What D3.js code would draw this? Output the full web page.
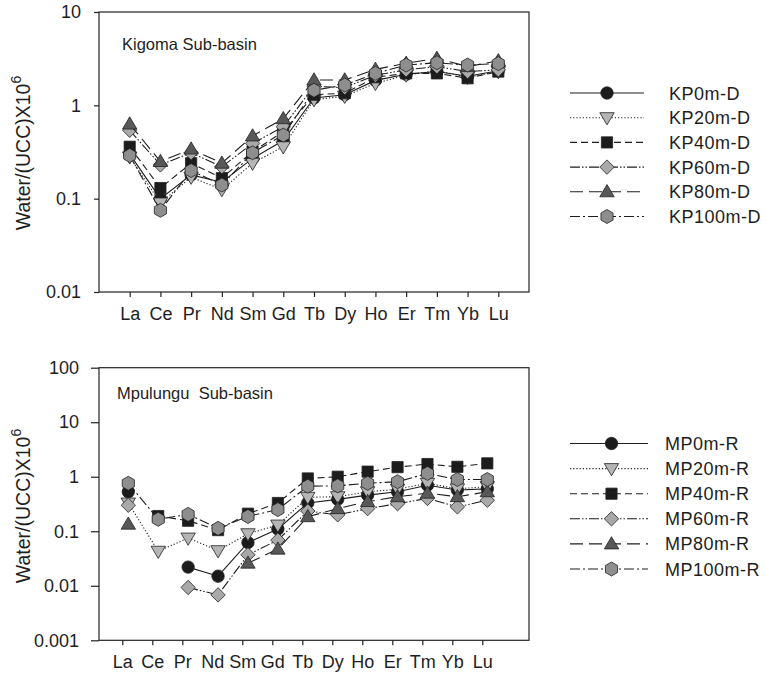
<!DOCTYPE html>
<html>
<head>
<meta charset="utf-8">
<script src="https://cdn.jsdelivr.net/npm/d3@7"></script>
<style>
  body { margin: 0; background: #fff; }
  svg { display: block; font-family: "Liberation Sans", Arial, sans-serif; }
  text { fill: #1e1e1e; }
</style>
</head>
<body>
<svg id="chart" width="766" height="674"></svg>
<script>
// Rare earth elements on the x axis
const categories = ["La","Ce","Pr","Nd","Sm","Gd","Tb","Dy","Ho","Er","Tm","Yb","Lu"];

// Kigoma sub-basin (water / UCC x 10^6)
const kigomaNames = ["KP0m-D","KP20m-D","KP40m-D","KP60m-D","KP80m-D","KP100m-D"];
const kp0   = [0.30, 0.10, 0.18, 0.15, 0.27, 0.42, 1.20, 1.30, 1.85, 2.15, 2.30, 2.05, 2.35];
const kp20  = [0.28, 0.09, 0.17, 0.125, 0.24, 0.36, 1.15, 1.25, 1.72, 2.11, 2.35, 2.00, 2.30];
const kp40  = [0.36, 0.13, 0.24, 0.166, 0.32, 0.52, 1.30, 1.35, 2.00, 2.20, 2.20, 1.95, 2.30];
const kp60  = [0.54, 0.23, 0.31, 0.22, 0.39, 0.59, 1.60, 1.55, 2.10, 2.40, 2.60, 2.30, 2.40];
const kp80  = [0.63, 0.25, 0.34, 0.24, 0.47, 0.72, 1.87, 1.87, 2.43, 2.82, 3.19, 2.60, 3.00];
const kp100 = [0.29, 0.075, 0.20, 0.14, 0.31, 0.48, 1.45, 1.65, 2.20, 2.70, 2.86, 2.70, 2.80];

// Mpulungu sub-basin (null = not determined)
const mpulunguNames = ["MP0m-R","MP20m-R","MP40m-R","MP60m-R","MP80m-R","MP100m-R"];
const mp0   = [0.53, null, 0.022, 0.015, 0.062, 0.11, 0.33, 0.385, 0.46, 0.53, 0.70, 0.57, 0.60];
const mp20  = [0.33, 0.043, 0.075, 0.044, 0.09, 0.13, 0.42, 0.43, 0.53, 0.59, 0.76, 0.60, 0.66];
const mp40  = [null, 0.19, 0.156, 0.105, 0.21, 0.33, 0.93, 1.00, 1.24, 1.50, 1.71, 1.52, 1.76];
const mp60  = [0.30, null, 0.0093, 0.0068, 0.037, 0.069, 0.235, 0.20, 0.26, 0.32, 0.40, 0.28, 0.37];
const mp80  = [0.135, null, null, null, 0.026, 0.047, 0.185, 0.26, 0.35, 0.43, 0.50, 0.43, 0.53];
const mp100 = [0.76, 0.166, 0.204, 0.113, 0.187, 0.25, 0.67, 0.68, 0.76, 0.81, 1.15, 0.89, 0.89];

// Y axis tick labels
const kigomaTicks = [0.01, 0.1, 1, 10];
const kigomaTickLabels = ["0.01", "0.1", "1", "10"];
const mpulunguTicks = [0.001, 0.01, 0.1, 1, 10, 100];
const mpulunguTickLabels = ["0.001", "0.01", "0.1", "1", "10", "100"];

// One marker/line style per sampling depth
const styles = [
  { shape: "circle",   fill: "#1c1c1c", dash: null },
  { shape: "triDown",  fill: "#b5b5b5", dash: "1.2,2" },
  { shape: "square",   fill: "#1c1c1c", dash: "7,4" },
  { shape: "diamond",  fill: "#a9a9a9", dash: "10,2,1.5,2,1.5,2" },
  { shape: "triUp",    fill: "#585858", dash: "13,6" },
  { shape: "hexagon",  fill: "#8e8e8e", dash: "10,3,2,3" }
];

function markerPath(shape) {
  const p = d3.path();
  if (shape === "circle") {
    p.arc(0, 0, 6.2, 0, 2 * Math.PI);
  } else if (shape === "square") {
    p.rect(-5.6, -5.6, 11.2, 11.2);
  } else if (shape === "triUp") {
    p.moveTo(0, -7.2); p.lineTo(7.2, 5); p.lineTo(-7.2, 5); p.closePath();
  } else if (shape === "triDown") {
    p.moveTo(0, 7.2); p.lineTo(7.2, -5); p.lineTo(-7.2, -5); p.closePath();
  } else if (shape === "diamond") {
    p.moveTo(0, -7.2); p.lineTo(7.2, 0); p.lineTo(0, 7.2); p.lineTo(-7.2, 0); p.closePath();
  } else if (shape === "hexagon") {
    for (let i = 0; i < 6; i++) {
      const a = -Math.PI / 2 + i * Math.PI / 3;
      const x = 7 * Math.cos(a), y = 7 * Math.sin(a);
      if (i === 0) p.moveTo(x, y); else p.lineTo(x, y);
    }
    p.closePath();
  }
  return p.toString();
}

const svg = d3.select("#chart");
svg.append("rect").attr("width", 766).attr("height", 674).attr("fill", "#fff");

function drawPanel(cfg) {
  const g = svg.append("g");
  const { left, right, top, bottom } = cfg.frame;

  const y = d3.scaleLog().domain(cfg.yDomain).range([bottom, top]);
  const xAxisScale = d3.scalePoint().domain(categories).range(cfg.xTickRange);
  const xMark = d3.scalePoint().domain(categories).range(cfg.xMarkRange);

  // frame
  g.append("rect")
    .attr("x", left).attr("y", top)
    .attr("width", right - left).attr("height", bottom - top)
    .attr("fill", "none").attr("stroke", "#222").attr("stroke-width", 1.2);

  // y axis
  const yAxis = d3.axisLeft(y)
    .tickValues(cfg.yTicks)
    .tickFormat((d, i) => cfg.yTickLabels[i])
    .tickSize(cfg.yTickLen).tickPadding(cfg.yTickPad);
  const ya = g.append("g").attr("transform", `translate(${left},0)`).call(yAxis);
  ya.select(".domain").remove();
  ya.selectAll("line").attr("stroke", "#222").attr("stroke-width", 1.2);
  ya.selectAll("text").attr("font-size", 18).attr("fill", "#1e1e1e")
    .attr("font-family", "Liberation Sans, Arial, sans-serif");

  // x axis
  const xAxis = d3.axisBottom(xAxisScale).tickSize(5).tickPadding(10);
  const xa = g.append("g").attr("transform", `translate(0,${bottom})`).call(xAxis);
  xa.select(".domain").remove();
  xa.selectAll("line").attr("stroke", "#222").attr("stroke-width", 1.2);
  xa.selectAll("text").attr("font-size", 18).attr("fill", "#1e1e1e")
    .attr("font-family", "Liberation Sans, Arial, sans-serif");

  // y axis title
  const yt = g.append("text")
    .attr("transform", `translate(${cfg.yTitlePos[0]},${cfg.yTitlePos[1]}) rotate(-90)`)
    .attr("text-anchor", "middle").attr("font-size", 19.5);
  yt.append("tspan").text("Water/(UCC)X10");
  yt.append("tspan").attr("dy", -9).attr("font-size", 14).text("6");

  // panel title
  g.append("text")
    .attr("x", cfg.titlePos[0]).attr("y", cfg.titlePos[1])
    .attr("font-size", 16.5).style("white-space", "pre")
    .text(cfg.title);

  // series
  cfg.series.forEach((vals, si) => {
    const st = styles[si];
    const pts = vals.map((v, i) => ({ c: categories[i], v }));
    const line = d3.line()
      .defined(d => d.v != null)
      .x(d => xMark(d.c)).y(d => y(d.v));
    g.append("path").datum(pts)
      .attr("d", line).attr("fill", "none")
      .attr("stroke", "#1e1e1e").attr("stroke-width", 1.1)
      .attr("stroke-dasharray", st.dash);
    g.selectAll(null).data(pts.filter(d => d.v != null)).enter()
      .append("path")
      .attr("d", markerPath(st.shape))
      .attr("transform", d => `translate(${xMark(d.c)},${y(d.v)})`)
      .attr("fill", st.fill).attr("stroke", "#222").attr("stroke-width", 0.8);
  });

  // legend
  const lg = svg.append("g");
  cfg.names.forEach((name, i) => {
    const st = styles[i];
    const ly = cfg.legend.y0 + i * cfg.legend.dy;
    lg.append("line")
      .attr("x1", cfg.legend.x1).attr("x2", cfg.legend.x2)
      .attr("y1", ly).attr("y2", ly)
      .attr("stroke", "#1e1e1e").attr("stroke-width", 1.1)
      .attr("stroke-dasharray", st.dash);
    lg.append("path").attr("d", markerPath(st.shape))
      .attr("transform", `translate(${cfg.legend.xm},${ly})`)
      .attr("fill", st.fill).attr("stroke", "#222").attr("stroke-width", 0.8);
    lg.append("text")
      .attr("x", cfg.legend.xt).attr("y", ly + 6.5)
      .attr("font-size", 18).attr("letter-spacing", 0.5)
      .text(name);
  });
}

drawPanel({
  frame: { left: 99, right: 529, top: 12, bottom: 292 },
  yDomain: [0.01, 10],
  yTicks: kigomaTicks, yTickLabels: kigomaTickLabels,
  yTickLen: 5, yTickPad: 13,
  xTickRange: [129.7, 498.3],
  xMarkRange: [129.7, 498.3],
  yTitlePos: [30, 153],
  title: "Kigoma Sub-basin", titlePos: [122, 50],
  series: [kp0, kp20, kp40, kp60, kp80, kp100],
  names: kigomaNames,
  legend: { y0: 93, dy: 24.7, x1: 570, x2: 644, xm: 607, xt: 669 }
});

drawPanel({
  frame: { left: 99, right: 529, top: 367.7, bottom: 640.3 },
  yDomain: [0.001, 100],
  yTicks: mpulunguTicks, yTickLabels: mpulunguTickLabels,
  yTickLen: 8, yTickPad: 12,
  xTickRange: [122.3, 482.3],
  xMarkRange: [128.3, 487.3],
  yTitlePos: [30, 506],
  title: "Mpulungu  Sub-basin", titlePos: [117, 399],
  series: [mp0, mp20, mp40, mp60, mp80, mp100],
  names: mpulunguNames,
  legend: { y0: 443.5, dy: 25.1, x1: 570, x2: 648, xm: 611.5, xt: 665 }
});
</script>
</body>
</html>
